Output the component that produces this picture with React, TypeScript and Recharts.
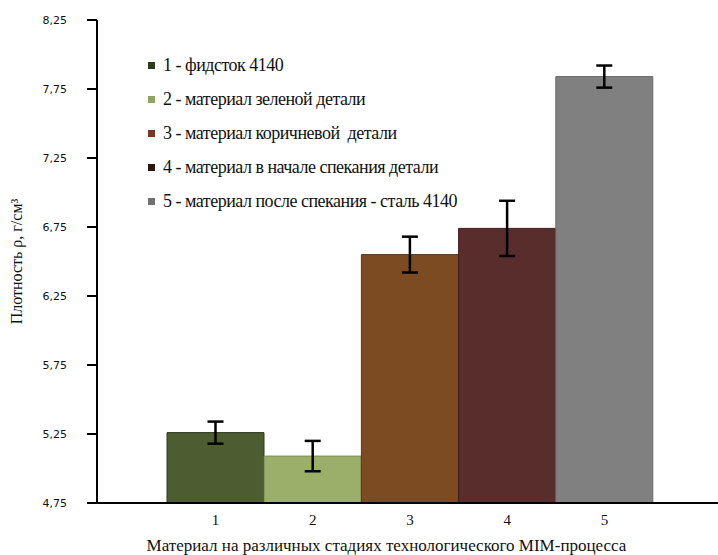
import React from 'react';
import { BarChart, Bar, XAxis, YAxis, Cell, ErrorBar, Legend } from 'recharts';

const categories = ['1', '2', '3', '4', '5'];
const density = [5.26, 5.09, 6.55, 6.74, 7.84];
const errors = [0.08, 0.11, 0.13, 0.2, 0.08];
const legendLabels = [
  '1 - фидсток 4140',
  '2 - материал зеленой детали',
  '3 - материал коричневой  детали',
  '4 - материал в начале спекания детали',
  '5 - материал после спекания - сталь 4140',
];
const yTicks = [4.75, 5.25, 5.75, 6.25, 6.75, 7.25, 7.75, 8.25];

const barColors = ['#4E5C32', '#9BAF6B', '#7D4B22', '#5A2D2D', '#808080'];
const barStrokes = ['#2F3A1C', '#7E9050', '#5E3515', '#3E1D1D', '#6A6A6A'];
const legendColors = ['#2E3B1E', '#8FA562', '#7A3526', '#2B1510', '#707070'];

const data = categories.map((c, i) => ({ name: c, value: density[i], err: errors[i] }));

const serif = '"Liberation Serif", serif';

function LegendBox() {
  return (
    <div style={{ fontFamily: serif, fontSize: 18, color: '#111' }}>
      {legendLabels.map((label, i) => (
        <div key={label} style={{ display: 'flex', alignItems: 'center', height: 34, whiteSpace: 'pre' }}>
          <span style={{ width: 7, height: 7, background: legendColors[i], marginRight: 8, display: 'inline-block' }} />
          <span style={{ letterSpacing: -0.5 }}>{label}</span>
        </div>
      ))}
    </div>
  );
}

export default function App() {
  return (
    <div style={{ position: 'absolute', left: 0, top: 0, background: '#fff' }}>
      <BarChart
        width={718}
        height={555}
        data={data}
        margin={{ top: 20, right: 0, left: 0, bottom: 0 }}
        barCategoryGap={0}
      >
        <XAxis
          dataKey="name"
          padding={{ left: 70, right: 65 }}
          height={52}
          stroke="#000"
          strokeWidth={2}
          tickLine={false}
          tickMargin={5}
          tick={{ fill: '#111', fontFamily: serif, fontSize: 15 }}
          label={{
            value: 'Материал на различных стадиях технологического MIM-процесса',
            position: 'insideBottom',
            offset: 4,
            dx: -21,
            style: { fill: '#111', fontFamily: serif, fontSize: 17 },
          }}
        />
        <YAxis
          width={97}
          domain={[4.75, 8.25]}
          ticks={yTicks}
          stroke="#000"
          strokeWidth={2}
          tickSize={10}
          tickMargin={20}
          tickFormatter={(v: number) => v.toFixed(2).replace('.', ',')}
          tick={{ fill: '#111', fontFamily: '"DejaVu Sans", sans-serif', fontSize: 11 }}
          label={{
            value: 'Плотность ρ, г/см³',
            angle: -90,
            position: 'insideLeft',
            offset: 16,
            style: { fill: '#111', fontFamily: serif, fontSize: 16, textAnchor: 'middle' },
          }}
        />
        <Legend
          layout="vertical"
          align="center"
          verticalAlign="middle"
          wrapperStyle={{ top: 48, left: 148, width: 360 }}
          content={() => <LegendBox />}
        />
        <Bar dataKey="value" isAnimationActive={false}>
          {data.map((d, i) => (
            <Cell key={d.name} fill={barColors[i]} stroke={barStrokes[i]} strokeWidth={1} />
          ))}
          <ErrorBar dataKey="err" width={8} stroke="#000" strokeWidth={2.5} direction="y" />
        </Bar>
      </BarChart>
    </div>
  );
}
